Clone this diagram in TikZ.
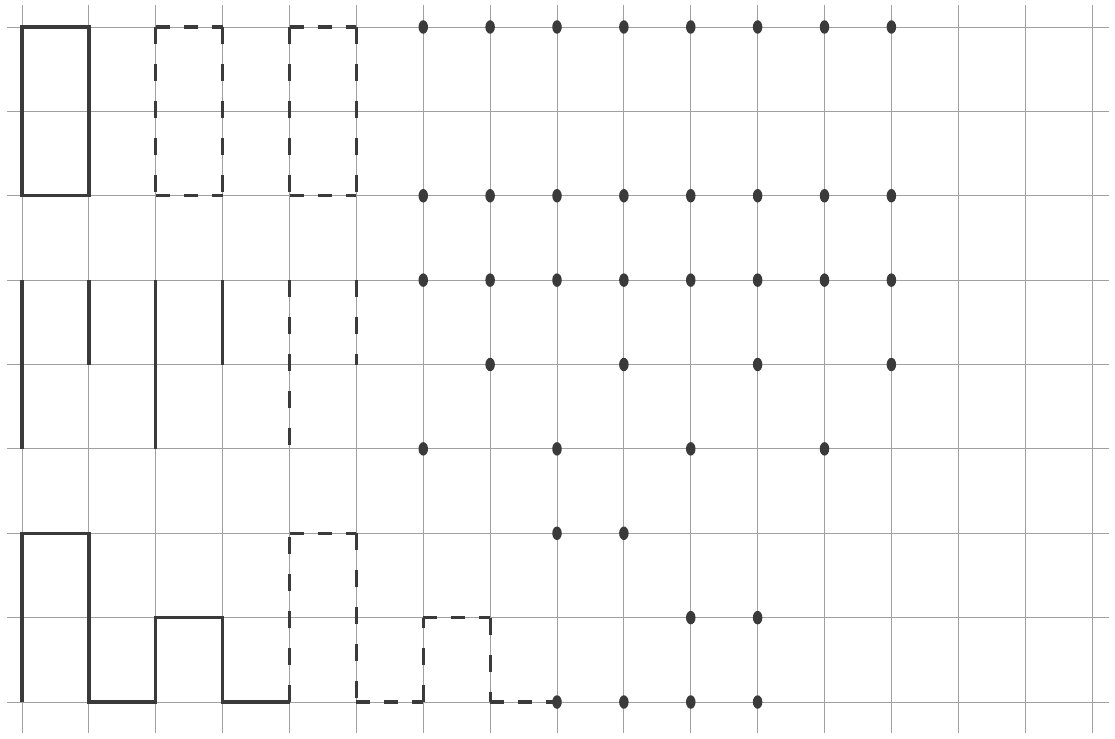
\documentclass[tikz,border=0pt]{standalone}
\usetikzlibrary{shapes.geometric}
\definecolor{gridc}{HTML}{A0A0A0}
\definecolor{ink}{HTML}{3A3A3A}
\tikzset{
  gridline/.style={draw=gridc, line width=0.9pt},
  solidline/.style={draw=ink, line width=3.3pt, line join=miter},
  dashh/.style={draw=ink, line width=3.2pt, dash pattern=on 14pt off 14pt},
  dashv/.style={draw=ink, line width=3.2pt, dash pattern=on 17pt off 20pt},
  dot/.style={ellipse, fill=ink, draw=none, inner sep=0pt, minimum width=9.5pt, minimum height=13.5pt}
}
\begin{document}
\begin{tikzpicture}[x=66.875pt, y=-84.375pt]
\useasboundingbox[fill=white] (-0.329,-0.32) rectangle (16.344,8.427);
% grid
\foreach \j in {0,...,8} \draw[gridline] (-0.224,\j) -- (16.254,\j);
\foreach \i in {0,...,16} \draw[gridline] (\i,-0.26) -- (\i,8.367);
% top rectangles
\draw[solidline] (0,0) rectangle (1,2);
\foreach \x in {2,4} {
  \draw[dashh] (\x,0) -- (\x+1,0);
  \draw[dashh] (\x,2) -- (\x+1,2);
  \draw[dashv] (\x,0) -- (\x,2);
  \draw[dashv] (\x+1,0) -- (\x+1,2);
}
% vertical strokes
\draw[solidline] (0,3) -- (0,5);
\draw[solidline] (1,3) -- (1,4);
\draw[solidline] (2,3) -- (2,5);
\draw[solidline] (3,3) -- (3,4);
\draw[dashv] (4,3) -- (4,5);
\draw[dashv] (5,3) -- (5,4);
% bottom steps
\draw[solidline] (0,8) -- (0,6) -- (1,6) -- (1,8) -- (2,8) -- (2,7) -- (3,7) -- (3,8) -- (4,8);
\draw[dashv] (4,8) -- (4,6);
\draw[dashh] (4,6) -- (5,6);
\draw[dashv] (5,6) -- (5,8);
\draw[dashh] (5,8) -- (6,8);
\draw[dashv] (6,8) -- (6,7);
\draw[dashh] (6,7) -- (7,7);
\draw[dashv] (7,7) -- (7,8);
\draw[dashh] (7,8) -- (8,8);
% dots
\foreach \i in {6,...,13} {
  \node[dot] (a\i) at (\i,0) {};
  \node[dot] (b\i) at (\i,2) {};
  \node[dot] (c\i) at (\i,3) {};
}
\foreach \i in {7,9,11,13} \node[dot] (d\i) at (\i,4) {};
\foreach \i in {6,8,10,12} \node[dot] (e\i) at (\i,5) {};
\foreach \i in {8,9} \node[dot] (f\i) at (\i,6) {};
\foreach \i in {10,11} \node[dot] (g\i) at (\i,7) {};
\foreach \i in {8,...,11} \node[dot] (h\i) at (\i,8) {};
\end{tikzpicture}
\end{document}
